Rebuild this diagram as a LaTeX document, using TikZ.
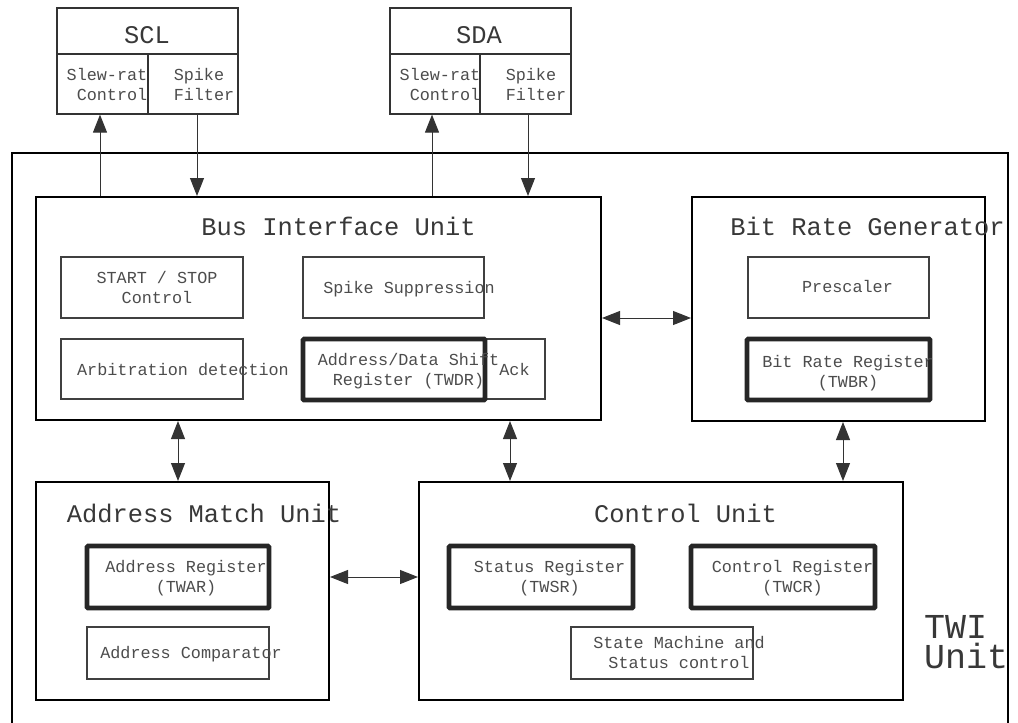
\documentclass[tikz,border=0pt]{standalone}
\usepackage{fontspec}
\newfontfamily\monofont{Liberation Mono}
\usetikzlibrary{arrows.meta, fit, calc, positioning}

\newcommand{\titlesize}{\fontsize{12.7pt}{15pt}\selectfont}
\newcommand{\subsize}{\fontsize{8.4pt}{10pt}\selectfont}
\newcommand{\twisize}{\fontsize{17.5pt}{15pt}\selectfont}

\tikzset{
  outerbox/.style={draw, line width=1pt, inner sep=0pt},
  unitbox/.style={draw, line width=1pt, inner sep=0pt},
  padbox/.style={draw=black!80, line width=0.6pt, inner sep=0pt},
  subbox/.style={draw=black!75, line width=0.6pt, inner sep=0pt},
  regbox/.style={draw=black!85, line width=2.3pt, inner sep=0pt, rounded corners=0.5pt},
  titletext/.style={font=\monofont\titlesize, text=black!78, inner sep=0pt, anchor=base},
  subtext/.style={font=\monofont\subsize, text=black!70, inner sep=0pt, anchor=base, align=center},
  conn/.style={draw=black!80, line width=0.5pt},
}

\begin{document}
\begin{tikzpicture}[x=0.5pt, y=-0.5pt, >={Triangle[length=9pt, width=7pt]}]
    \useasboundingbox (0,0) rectangle (1018,723);
    \clip (0,0) rectangle (1018,723);

    % TWI Unit (open at the bottom)
    \node[outerbox, fit={(12,153) (1008,760)}] (twi) {};
    \node[font=\monofont\twisize, text=black!78, inner sep=0pt, anchor=base, align=left] (twi-t) at (966,668) {TWI\\Unit};

    % SCL and SDA pads
    \node[padbox, fit={(57,8) (238,54)}] (scl) {};
    \node[padbox, fit={(57,54) (148,114)}] (scl-slew) {};
    \node[padbox, fit={(148,54) (238,114)}] (scl-spike) {};
    \node[titletext] (scl-t) at (147,43) {SCL};
    \node[subtext, align=right] (scl-slew-t) at (107,100) {Slew-rat\\Control};
    \node[subtext, align=left] (scl-spike-t) at (204,100) {Spike\\Filter};

    \node[padbox, fit={(390,8) (571,54)}] (sda) {};
    \node[padbox, fit={(390,54) (480,114)}] (sda-slew) {};
    \node[padbox, fit={(480,54) (571,114)}] (sda-spike) {};
    \node[titletext] (sda-t) at (479,43) {SDA};
    \node[subtext, align=right] (sda-slew-t) at (440,100) {Slew-rat\\Control};
    \node[subtext, align=left] (sda-spike-t) at (536,100) {Spike\\Filter};

    % Bus Interface Unit
    \node[unitbox, fit={(36,197) (601,420)}] (biu) {};
    \node[titletext] (biu-t) at (338.5,235) {Bus Interface Unit};
    \node[subbox, fit={(61,257) (243,318)}] (startstop) {};
    \node[subtext] (startstop-t) at (157,303) {START / STOP\\Control};
    \node[subbox, fit={(303,257) (484,318)}] (spike) {};
    \node[subtext] (spike-t) at (409,293) {Spike Suppression};
    \node[subbox, fit={(61,339) (243,399)}] (arbit) {};
    \node[subtext] (arbit-t) at (183,375) {Arbitration detection};
    \node[subbox, fit={(485,339) (545,399)}] (ack) {};
    \node[subtext] (ack-t) at (514.5,375) {Ack};
    \node[regbox, fit={(303,339) (485,400)}] (twdr) {};
    \node[subtext] (twdr-t) at (408.5,385) {Address/Data Shift\\Register (TWDR)};

    % Bit Rate Generator
    \node[unitbox, fit={(692,197) (985,421)}] (brg) {};
    \node[titletext] (brg-t) at (867.5,235) {Bit Rate Generator};
    \node[subbox, fit={(748,257) (929,318)}] (presc) {};
    \node[subtext] (presc-t) at (847.5,292) {Prescaler};
    \node[regbox, fit={(747,339) (930,400)}] (twbr) {};
    \node[subtext] (twbr-t) at (848,387) {Bit Rate Register\\(TWBR)};

    % Address Match Unit
    \node[unitbox, fit={(36,482) (329,700)}] (amu) {};
    \node[titletext] (amu-t) at (204,522) {Address Match Unit};
    \node[regbox, fit={(87,546) (269,608)}] (twar) {};
    \node[subtext] (twar-t) at (186,592) {Address Register\\(TWAR)};
    \node[subbox, fit={(87,627) (269,679)}] (acomp) {};
    \node[subtext] (acomp-t) at (191,658) {Address Comparator};

    % Control Unit
    \node[unitbox, fit={(419,482) (903,700)}] (cu) {};
    \node[titletext] (cu-t) at (685.5,522) {Control Unit};
    \node[regbox, fit={(449,546) (633,608)}] (twsr) {};
    \node[subtext] (twsr-t) at (549.5,592) {Status Register\\(TWSR)};
    \node[regbox, fit={(691,546) (875,608)}] (twcr) {};
    \node[subtext] (twcr-t) at (792.5,592) {Control Register\\(TWCR)};
    \node[subbox, fit={(571,627) (753,679)}] (fsm) {};
    \node[subtext] (fsm-t) at (679,668) {State Machine and\\Status control};

    % Connectors
    \coordinate (scl-up) at ([xshift=-1.25pt]scl-slew.south);
    \coordinate (scl-dn) at ([xshift=2pt]scl-spike.south);
    \coordinate (sda-up) at ([xshift=-1.5pt]sda-slew.south);
    \coordinate (sda-dn) at ([xshift=1.25pt]sda-spike.south);
    \draw[conn, ->] (biu.north -| scl-up) -- (scl-up);
    \draw[conn, ->] (scl-dn) -- (scl-dn |- biu.north);
    \draw[conn, ->] (biu.north -| sda-up) -- (sda-up);
    \draw[conn, ->] (sda-dn) -- (sda-dn |- biu.north);

    \coordinate (biu-r) at ([yshift=-4.75pt]biu.east);
    \draw[conn, <->] (biu-r) -- (biu-r -| brg.west);
    \coordinate (amu-in) at ([xshift=-2.25pt]amu.north);
    \draw[conn, <->] (amu-in |- biu.south) -- (amu-in);
    \coordinate (cu-in) at ([xshift=46pt]cu.north west);
    \draw[conn, <->] (cu-in |- biu.south) -- (cu-in);
    \coordinate (brg-out) at ([xshift=2.25pt]brg.south);
    \draw[conn, <->] (brg-out) -- (brg-out |- cu.north);
    \coordinate (amu-r) at ([yshift=7pt]amu.east);
    \draw[conn, <->] (amu-r) -- (amu-r -| cu.west);
\end{tikzpicture}
\end{document}
